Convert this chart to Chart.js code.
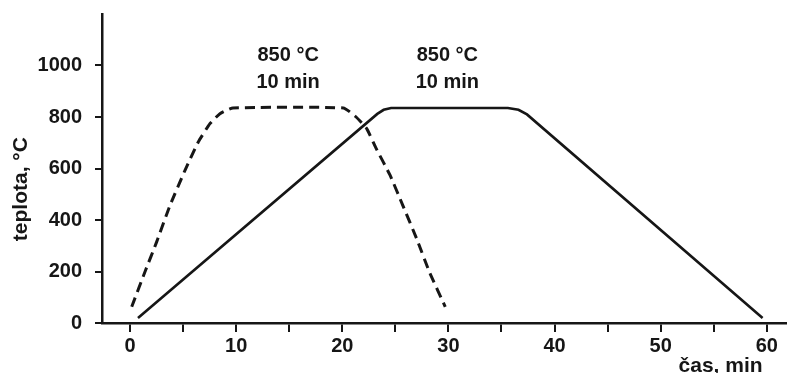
<!DOCTYPE html>
<html>
<head>
<meta charset="utf-8">
<script src="https://cdn.jsdelivr.net/npm/chart.js@4.4.1/dist/chart.umd.min.js"></script>
<style>
  html, body { margin: 0; padding: 0; background: #fff; }
  #wrap { width: 787px; height: 373px; position: relative; }
</style>
</head>
<body>
<div id="wrap"><canvas id="c"></canvas></div>
<script>
// ---- data ----
const fastTime = [0.16, 1.41, 2.51, 3.77, 5.18, 6.43, 7.53, 8.47, 9.7, 20.1, 21.3, 22.3, 23.2, 24.5, 25.7, 27.0, 28.2, 29.7];
const fastTemp = [63, 199, 315, 457, 593, 703, 774, 813, 835, 835, 800, 755, 677, 574, 457, 328, 199, 63];
const slowTime = [0.75, 23.3, 23.9, 24.6, 35.6, 36.6, 37.4, 59.6];
const slowTemp = [19, 812, 828, 835, 835, 828, 810, 19];
const xTicks = [0, 5, 10, 15, 20, 25, 30, 35, 40, 45, 50, 55, 60];
const yTicks = [0, 200, 400, 600, 800, 1000];
const noteLines1 = ['850 °C', '850 °C'];
const noteLines2 = ['10 min', '10 min'];
const noteTimes = [14.9, 29.9];
const yTitle = 'teplota, °C';
const xTitle = 'čas, min';

const FONT = '"Liberation Sans", Arial, sans-serif';
const INK = '#161616';

function pts(xs, ys) { return xs.map((x, i) => ({ x: x, y: ys[i] })); }

const textPlugin = {
  id: 'texts',
  afterDraw(chart) {
    const ctx = chart.ctx;
    const xs = chart.scales.x, ys = chart.scales.y;
    ctx.save();
    ctx.fillStyle = INK;
    ctx.font = 'bold 20px ' + FONT;
    ctx.textAlign = 'center';
    ctx.textBaseline = 'middle';
    noteTimes.forEach((t, i) => {
      const px = xs.getPixelForValue(t);
      ctx.fillText(noteLines1[i], px, ys.getPixelForValue(1040));
      ctx.fillText(noteLines2[i], px, ys.getPixelForValue(935));
    });
    // x title (bottom right)
    ctx.font = 'bold 21px ' + FONT;
    ctx.textAlign = 'right';
    ctx.fillText(xTitle, xs.getPixelForValue(59.6), 366);
    // y title rotated
    ctx.font = 'bold 21px ' + FONT;
    ctx.translate(21, ys.getPixelForValue(520));
    ctx.rotate(-Math.PI / 2);
    ctx.textAlign = 'center';
    ctx.fillText(yTitle, 0, 0);
    ctx.restore();
  }
};

new Chart(document.getElementById('c'), {
  type: 'line',
  data: {
    datasets: [
      {
        data: pts(fastTime, fastTemp),
        borderColor: INK,
        borderWidth: 3,
        borderDash: [10, 6],
        pointRadius: 0,
        tension: 0.15,
        fill: false
      },
      {
        data: pts(slowTime, slowTemp),
        borderColor: INK,
        borderWidth: 2.6,
        pointRadius: 0,
        tension: 0,
        fill: false
      }
    ]
  },
  options: {
    responsive: true,
    maintainAspectRatio: false,
    animation: false,
    layout: { padding: { top: 14, right: 0, left: 0, bottom: 0 } },
    plugins: { legend: { display: false }, tooltip: { enabled: false } },
    scales: {
      x: {
        type: 'linear',
        min: -2.64,
        max: 61.9,
        afterBuildTicks(s) { s.ticks = xTicks.map(v => ({ value: v })); },
        afterFit(s) { s.height = 50; s.paddingLeft = 0; s.paddingRight = 0; },
        border: { display: true, color: INK, width: 2.5 },
        grid: { display: true, drawOnChartArea: false, drawTicks: true, tickLength: 9, color: INK, lineWidth: 2 },
        ticks: {
          autoSkip: false, maxRotation: 0, padding: 2,
          color: INK,
          font: { family: FONT, size: 20, weight: 'bold' },
          callback: v => (v % 10 === 0 ? String(v) : '')
        }
      },
      y: {
        type: 'linear',
        min: 0,
        max: 1200,
        afterBuildTicks(s) { s.ticks = yTicks.map(v => ({ value: v })); },
        afterFit(s) { s.width = 102; s.paddingTop = 0; s.paddingBottom = 0; },
        border: { display: true, color: INK, width: 2.5 },
        grid: { display: true, drawOnChartArea: false, drawTicks: true, tickLength: 7, color: INK, lineWidth: 2 },
        ticks: {
          padding: 13,
          color: INK,
          font: { family: FONT, size: 20, weight: 'bold' },
          callback: v => String(v)
        }
      }
    }
  },
  plugins: [textPlugin]
});
</script>
</body>
</html>
